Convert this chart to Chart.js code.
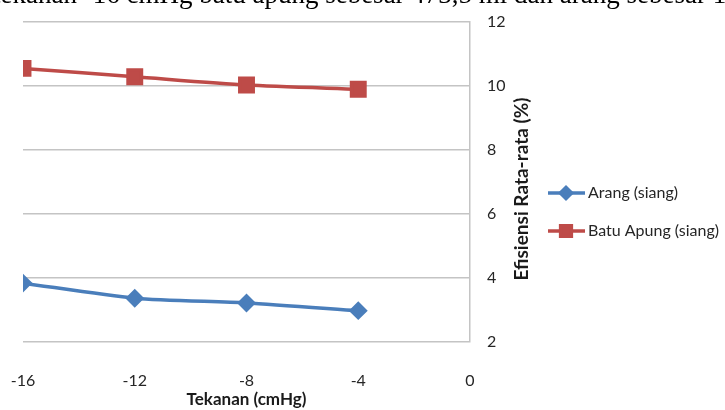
<!DOCTYPE html>
<html>
<head>
<meta charset="utf-8">
<script src="https://cdn.jsdelivr.net/npm/chart.js@4.4.1/dist/chart.umd.min.js"></script>
<style>
  html, body { margin: 0; padding: 0; background: #fff; overflow: hidden; }
  #wrap { position: relative; width: 725px; height: 410px; overflow: hidden; }
  #caption {
    position: absolute; left: -7px; top: -19px; white-space: nowrap;
    font-family: "Liberation Serif", "Times New Roman", serif; font-size: 27px; line-height: 1; color: #000;
  }
  canvas { position: absolute; left: 0; top: 0; }
</style>
</head>
<body>
<div id="wrap">
  <canvas id="chart" width="725" height="410"></canvas>
  <div id="caption">tekanan -16 cmHg batu apung sebesar 473,5 ml dan arang sebesar 1</div>
</div>
<script>
// data
const tekanan = [-16, -12, -8, -4];
const arangSiang = [3.84, 3.37, 3.22, 2.98];
const batuApungSiang = [10.55, 10.29, 10.03, 9.9];
const xTickLabels = [-16, -12, -8, -4, 0];
const yTickLabels = [2, 4, 6, 8, 10, 12];

const seriesNames = ["Arang (siang)", "Batu Apung (siang)"];
const fontFamily = "Lato, 'Open Sans', sans-serif";
const gridColor = "#c4c4c4";

// legend + rotated y title drawn by hand (Excel style)
const excelExtras = {
  id: "excelExtras",
  afterDraw(chart) {
    const ctx = chart.ctx;

    // y axis title, reading bottom to top
    ctx.save();
    ctx.translate(522, 189);
    ctx.rotate(-Math.PI / 2);
    ctx.font = "bold 19px " + fontFamily;
    ctx.fillStyle = "#1a1a1a";
    ctx.textAlign = "center";
    ctx.textBaseline = "middle";
    ctx.fillText("Efisiensi Rata-rata (%)", 0, 0);
    ctx.restore();

    // legend
    const rows = [193, 231];
    chart.data.datasets.forEach((ds, i) => {
      const y = rows[i];
      ctx.save();
      ctx.strokeStyle = ds.borderColor;
      ctx.lineWidth = 3.5;
      ctx.beginPath();
      ctx.moveTo(548, y);
      ctx.lineTo(585, y);
      ctx.stroke();
      ctx.fillStyle = ds.pointBackgroundColor;
      ctx.strokeStyle = ds.pointBorderColor;
      Chart.helpers.drawPoint(ctx, {
        pointStyle: ds.pointStyle,
        radius: ds.pointRadius * 0.8,
        rotation: 0,
        borderWidth: 1
      }, 566, y);
      ctx.fillStyle = "#262626";
      ctx.font = "16px " + fontFamily;
      ctx.textAlign = "left";
      ctx.textBaseline = "middle";
      ctx.fillText(ds.label, 588, y);
      ctx.restore();
    });
  }
};

new Chart(document.getElementById("chart"), {
  type: "line",
  data: {
    datasets: [
      {
        label: seriesNames[0],
        data: tekanan.map((x, i) => ({ x: x, y: arangSiang[i] })),
        borderColor: "#4a7ebb",
        backgroundColor: "#4a7ebb",
        pointBackgroundColor: "#4a7ebb",
        pointBorderColor: "#4a7ebb",
        borderWidth: 3.5,
        pointStyle: "rectRot",
        pointRadius: 7,
        pointHoverRadius: 7,
        tension: 0.25
      },
      {
        label: seriesNames[1],
        data: tekanan.map((x, i) => ({ x: x, y: batuApungSiang[i] })),
        borderColor: "#be4b48",
        backgroundColor: "#be4b48",
        pointBackgroundColor: "#be4b48",
        pointBorderColor: "#be4b48",
        borderWidth: 3.5,
        pointStyle: "rect",
        pointRadius: 9.5,
        pointHoverRadius: 9.5,
        tension: 0.25
      }
    ]
  },
  options: {
    responsive: false,
    animation: false,
    layout: { padding: { left: 23, right: 180, top: 22, bottom: 0 } },
    plugins: {
      legend: { display: false },
      tooltip: { enabled: false }
    },
    scales: {
      x: {
        type: "linear",
        min: xTickLabels[0],
        max: xTickLabels[xTickLabels.length - 1],
        afterBuildTicks: (scale) => {
          scale.ticks = xTickLabels.map((v) => ({ value: v }));
        },
        afterFit: (scale) => {
          scale.height = 68;
          scale.paddingLeft = 0;
          scale.paddingRight = 0;
        },
        grid: { display: false, drawTicks: false },
        border: { display: false },
        ticks: {
          padding: 29,
          maxRotation: 0,
          color: "#262626",
          font: { family: fontFamily, size: 16 }
        },
        title: {
          display: true,
          text: "Tekanan (cmHg)",
          color: "#1a1a1a",
          font: { family: fontFamily, size: 17, weight: "bold" },
          padding: { top: 0, bottom: 0 }
        }
      },
      y: {
        position: "right",
        min: yTickLabels[0],
        max: yTickLabels[yTickLabels.length - 1],
        afterBuildTicks: (scale) => {
          scale.ticks = yTickLabels.map((v) => ({ value: v }));
        },
        afterFit: (scale) => {
          scale.width = 75;
          scale.paddingTop = 0;
          scale.paddingBottom = 0;
        },
        grid: { color: gridColor, lineWidth: 1.5, drawTicks: false },
        border: { display: true, color: gridColor, width: 1.5 },
        ticks: {
          padding: 17,
          color: "#262626",
          font: { family: fontFamily, size: 16 }
        }
      }
    }
  },
  plugins: [excelExtras]
});
</script>
</body>
</html>
